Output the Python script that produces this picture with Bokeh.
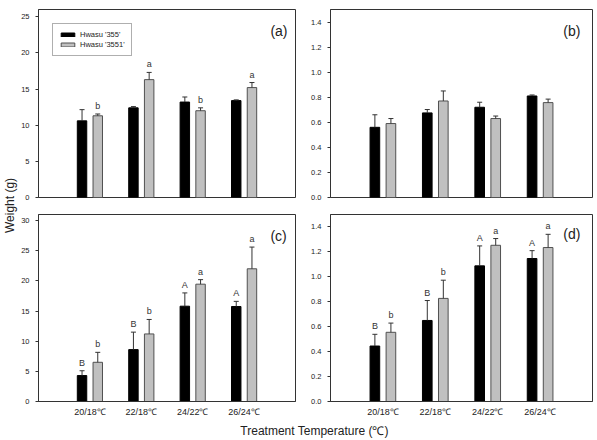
import math
from bokeh.plotting import figure
from bokeh.models import (ColumnDataSource, Whisker, TeeHead, Label, Legend, LegendItem,
                          FixedTicker, NumeralTickFormatter, Range1d, FactorRange)
from bokeh.transform import dodge
from bokeh.layouts import column, row
from bokeh.core.properties import value
from bokeh.embed import file_html
from bokeh.resources import INLINE

# ---------------- data ----------------
temps = ["20/18℃", "22/18℃", "24/22℃", "26/24℃"]
series_names = ["Hwasu '355'", "Hwasu '3551'"]

a_355 = [10.6, 12.4, 13.2, 13.4]
a_355_err = [1.55, 0.17, 0.7, 0.1]
a_3551 = [11.3, 16.3, 12.0, 15.2]
a_3551_err = [0.25, 1.0, 0.4, 0.7]
a_355_letters = ["", "", "", ""]
a_3551_letters = ["b", "a", "b", "a"]

b_355 = [0.56, 0.675, 0.72, 0.81]
b_355_err = [0.10, 0.027, 0.04, 0.008]
b_3551 = [0.59, 0.77, 0.63, 0.757]
b_3551_err = [0.04, 0.08, 0.02, 0.028]
b_355_letters = ["", "", "", ""]
b_3551_letters = ["", "", "", ""]

c_355 = [4.3, 8.6, 15.8, 15.75]
c_355_err = [0.8, 2.9, 2.2, 0.85]
c_3551 = [6.5, 11.2, 19.45, 22.0]
c_3551_err = [1.65, 2.4, 0.75, 3.6]
c_355_letters = ["B", "B", "A", "A"]
c_3551_letters = ["b", "b", "a", "a"]

d_355 = [0.445, 0.65, 1.088, 1.147]
d_355_err = [0.094, 0.16, 0.16, 0.063]
d_3551 = [0.555, 0.827, 1.253, 1.235]
d_3551_err = [0.074, 0.146, 0.054, 0.106]
d_355_letters = ["B", "B", "A", "A"]
d_3551_letters = ["b", "b", "a", "a"]

ticks_g_a = [0, 5, 10, 15, 20, 25]
ticks_g_c = [0, 5, 10, 15, 20, 25, 30]
ticks_small = [0.0, 0.2, 0.4, 0.6, 0.8, 1.0, 1.2, 1.4]

panel_tags = ["(a)", "(b)", "(c)", "(d)"]
y_title = "Weight (g)"
x_title = "Treatment Temperature (℃)"

# ---------------- style ----------------
FONT = "Liberation Sans"
DARK = "#333333"
GRAY_FILL = "#c0c0c0"
GRAY_LINE = "#505050"
OFF = 0.153
BW = 0.184


def panel(tag, v1, e1, v2, e2, l1, l2, ymax, ticks, fmt, width, height,
          mbl, mbr, mbt, mbb, show_x, tag_xy, legend=False):
    p = figure(x_range=FactorRange(*temps, range_padding=0.25),
               y_range=Range1d(0, ymax), width=width, height=height,
               output_backend="svg", toolbar_location=None,
               min_border_left=mbl, min_border_right=mbr,
               min_border_top=mbt, min_border_bottom=mbb)
    p.xgrid.visible = False
    p.ygrid.visible = False
    p.outline_line_color = DARK
    p.outline_line_width = 1
    p.outline_line_alpha = 1

    src = ColumnDataSource(dict(
        t=temps, v1=v1, v2=v2,
        u1=[a + b for a, b in zip(v1, e1)],
        u2=[a + b for a, b in zip(v2, e2)],
        l1=l1, l2=l2))

    x1 = dodge("t", -OFF, range=p.x_range)
    x2 = dodge("t", OFF, range=p.x_range)
    for xx, lo, up in ((x1, "v1", "u1"), (x2, "v2", "u2")):
        p.add_layout(Whisker(source=src, base=xx, lower=lo, upper=up,
                             line_color=DARK, line_width=1,
                             upper_head=TeeHead(size=5, line_color=DARK, line_width=1),
                             lower_head=None, level="glyph"))
    r1 = p.vbar(x=x1, top="v1", width=BW, source=src,
                fill_color="black", line_color="black", line_width=1)
    r2 = p.vbar(x=x2, top="v2", width=BW, source=src,
                fill_color=GRAY_FILL, line_color=GRAY_LINE, line_width=1)

    for xx, up, lab in ((x1, "u1", "l1"), (x2, "u2", "l2")):
        p.text(x=xx, y=up, text=lab, source=src, text_align="center",
               text_baseline="bottom", y_offset=-3, text_font_size="9px",
               text_font=value(FONT), text_color=DARK)

    ya = p.yaxis[0]
    ya.ticker = FixedTicker(ticks=ticks)
    if fmt:
        ya.formatter = NumeralTickFormatter(format=fmt)
    ya.major_tick_out = 3
    ya.major_tick_in = 0
    ya.minor_tick_line_color = None
    ya.axis_line_color = DARK
    ya.major_tick_line_color = DARK
    ya.major_label_text_font_size = "7.5px"
    ya.major_label_text_font = FONT
    ya.major_label_text_color = "#222222"
    ya.major_label_standoff = 6

    xa = p.xaxis[0]
    if show_x:
        xa.major_tick_out = 0
        xa.major_tick_in = 0
        xa.axis_line_color = DARK
        xa.major_label_text_font_size = "9px"
        xa.major_label_text_font = FONT
        xa.major_label_text_color = "#222222"
        xa.major_label_standoff = 5
    else:
        xa.visible = False

    p.add_layout(Label(x=tag_xy[0], y=tag_xy[1], text=tag, text_align="right",
                       text_baseline="middle", text_font_size="14px",
                       text_font=FONT, text_color="#222222"))

    if legend:
        lg = Legend(items=[LegendItem(label=series_names[0], renderers=[r1]),
                           LegendItem(label=series_names[1], renderers=[r2])],
                    location="top_left", margin=14, padding=5, spacing=1,
                    label_height=9, glyph_height=5, glyph_width=17,
                    label_standoff=4, label_text_font_size="7.5px",
                    label_text_font=FONT, label_text_color="#222222",
                    border_line_color="#606060", border_line_width=1,
                    background_fill_color="white", background_fill_alpha=1)
        lg.padding = 6
        p.add_layout(lg)
    return p


pa = panel(panel_tags[0], a_355, a_355_err, a_3551, a_3551_err, a_355_letters, a_3551_letters,
           26, ticks_g_a, None, 279, 206, 19, 2, 9, 9, False, (4.345, 23.0), legend=True)
pb = panel(panel_tags[1], b_355, b_355_err, b_3551, b_3551_err, b_355_letters, b_3551_letters,
           1.5, ticks_small, "0.0", 299, 206, 33, 4, 9, 9, False, (4.27, 1.325))
pc = panel(panel_tags[2], c_355, c_355_err, c_3551, c_3551_err, c_355_letters, c_3551_letters,
           31, ticks_g_c, None, 279, 215, 19, 2, 8, 20, True, (4.33, 27.5))
pd = panel(panel_tags[3], d_355, d_355_err, d_3551, d_3551_err, d_355_letters, d_3551_letters,
           1.5, ticks_small, "0.0", 299, 215, 33, 4, 8, 20, True, (4.27, 1.343))

yfig = figure(width=18, height=421, output_backend="svg", toolbar_location=None,
              x_range=Range1d(0, 18), y_range=Range1d(0, 421), min_border=0,
              x_axis_location=None, y_axis_location=None)
yfig.outline_line_color = None
yfig.xgrid.visible = False
yfig.ygrid.visible = False
yfig.add_layout(Label(x=9.5, y=216, text=y_title, angle=math.pi / 2, text_align="center",
                      text_baseline="middle", text_font_size="12px", text_font=FONT,
                      text_color="#222222"))

xfig = figure(width=596, height=18, output_backend="svg", toolbar_location=None,
              x_range=Range1d(0, 596), y_range=Range1d(0, 18), min_border=0,
              x_axis_location=None, y_axis_location=None)
xfig.outline_line_color = None
xfig.xgrid.visible = False
xfig.ygrid.visible = False
xfig.add_layout(Label(x=314, y=9, text=x_title, text_align="center",
                      text_baseline="middle", text_font_size="12px", text_font=FONT,
                      text_color="#222222"))

layout = column(row(yfig, column(row(pa, pb), row(pc, pd))), xfig)

open("out.html", "w").write(file_html(layout, INLINE))
